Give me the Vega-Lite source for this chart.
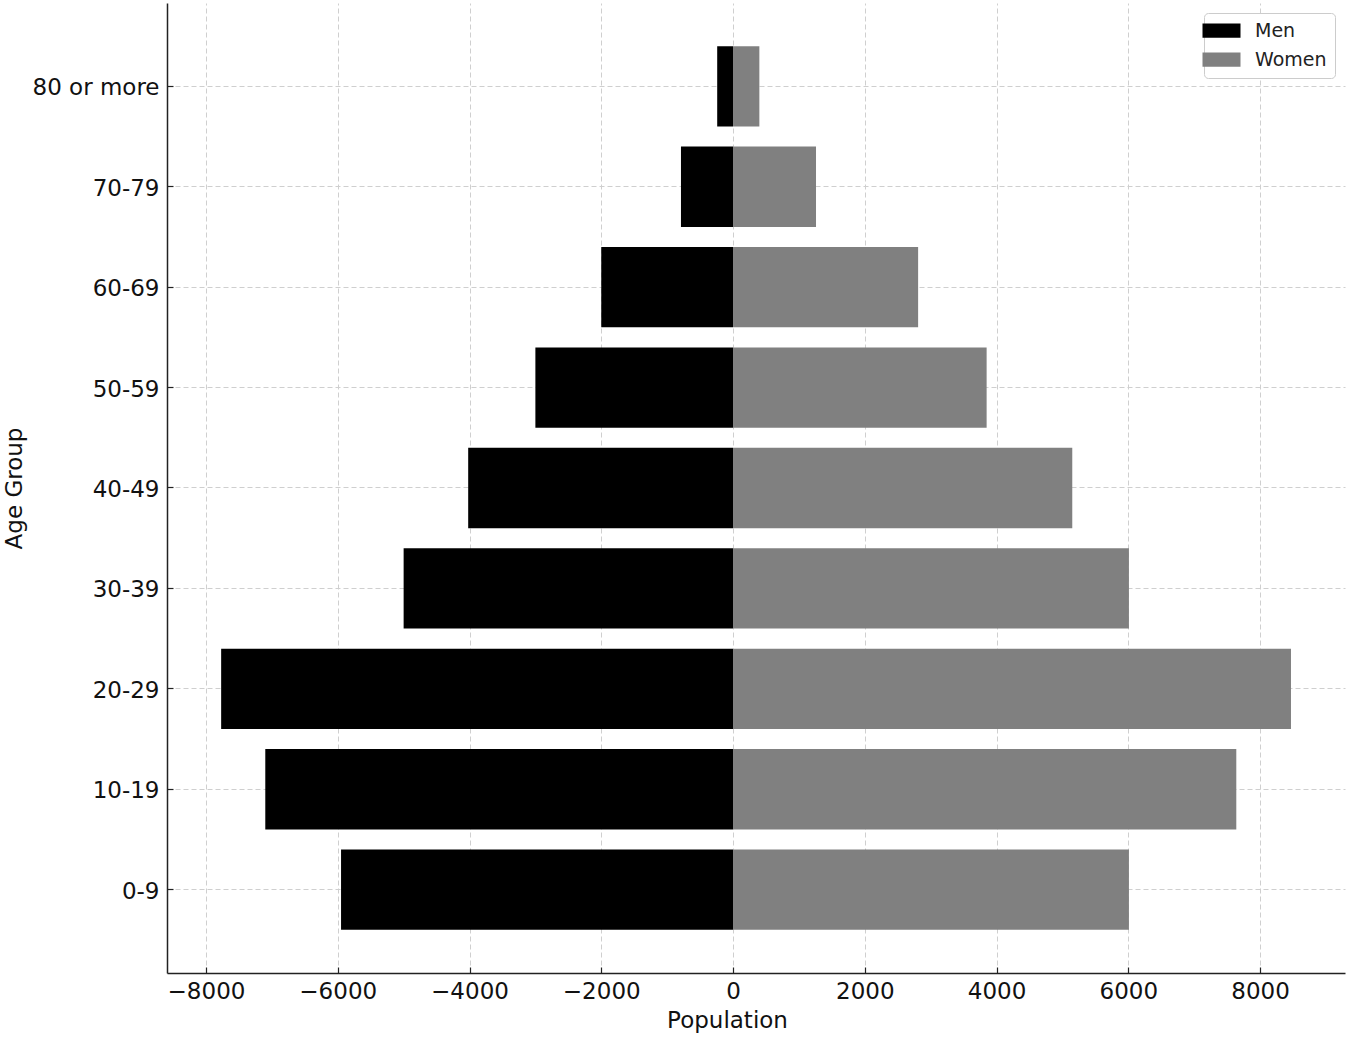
{
  "$schema": "https://vega.github.io/schema/vega-lite/v6.json",
  "width": 1178,
  "height": 970,
  "autosize": {"type": "none"},
  "padding": {"left": 167, "top": 3, "right": 5, "bottom": 65},
  "background": "white",
  "config": {
    "font": "DejaVu Sans",
    "view": {"stroke": null},
    "axis": {
      "labelFont": "DejaVu Sans",
      "titleFont": "DejaVu Sans",
      "labelFontSize": 23,
      "titleFontSize": 23,
      "titleFontWeight": "normal",
      "labelColor": "#111111",
      "titleColor": "#111111",
      "domainColor": "#222222",
      "domainWidth": 1.5,
      "tickColor": "#222222",
      "tickSize": -6,
      "tickWidth": 1.2,
      "gridColor": "#cfcfcf",
      "gridDash": [5, 3],
      "gridWidth": 1,
      "zindex": 1
    }
  },
  "data": {
    "values": [
      {"age": "80 or more", "sex": "Men", "population": -240},
      {"age": "70-79", "sex": "Men", "population": -790},
      {"age": "60-69", "sex": "Men", "population": -2000},
      {"age": "50-59", "sex": "Men", "population": -3000},
      {"age": "40-49", "sex": "Men", "population": -4020},
      {"age": "30-39", "sex": "Men", "population": -5000},
      {"age": "20-29", "sex": "Men", "population": -7770},
      {"age": "10-19", "sex": "Men", "population": -7100},
      {"age": "0-9", "sex": "Men", "population": -5950},
      {"age": "80 or more", "sex": "Women", "population": 400},
      {"age": "70-79", "sex": "Women", "population": 1260},
      {"age": "60-69", "sex": "Women", "population": 2810},
      {"age": "50-59", "sex": "Women", "population": 3850},
      {"age": "40-49", "sex": "Women", "population": 5150},
      {"age": "30-39", "sex": "Women", "population": 6010},
      {"age": "20-29", "sex": "Women", "population": 8470},
      {"age": "10-19", "sex": "Women", "population": 7640},
      {"age": "0-9", "sex": "Women", "population": 6010}
    ]
  },
  "mark": {"type": "bar"},
  "encoding": {
    "y": {
      "field": "age",
      "type": "nominal",
      "sort": ["80 or more", "70-79", "60-69", "50-59", "40-49", "30-39", "20-29", "10-19", "0-9"],
      "scale": {"paddingInner": 0.2, "paddingOuter": 0.43},
      "axis": {"title": "Age Group", "grid": true, "labelPadding": 14, "labelOffset": 2, "titlePadding": 6, "labelBaseline": "middle"}
    },
    "x": {
      "field": "population",
      "type": "quantitative",
      "scale": {"domain": [-8592, 9290], "nice": false, "zero": false},
      "axis": {"title": "Population", "titleX": 560, "values": [-8000, -6000, -4000, -2000, 0, 2000, 4000, 6000, 8000], "format": "d", "labelExpr": "replace(datum.label, '-', '\u2212')", "labelPadding": 13, "titlePadding": 6}
    },
    "color": {
      "field": "sex",
      "type": "nominal",
      "scale": {"domain": ["Men", "Women"], "range": ["#000000", "#808080"]},
      "legend": {
        "title": null,
        "orient": "top-right",
        "offset": 10,
        "labelFontSize": 19,
        "labelFont": "DejaVu Sans",
        "labelColor": "#222222",
        "symbolType": "M-2,-0.75H2V0.75H-2Z",
        "symbolSize": 361,
        "symbolStrokeWidth": 0,
        "symbolOpacity": 1,
        "labelOffset": 24,
        "rowPadding": 9,
        "padding": 8,
        "strokeColor": "#cccccc",
        "fillColor": "white",
        "cornerRadius": 4
      }
    }
  }
}
